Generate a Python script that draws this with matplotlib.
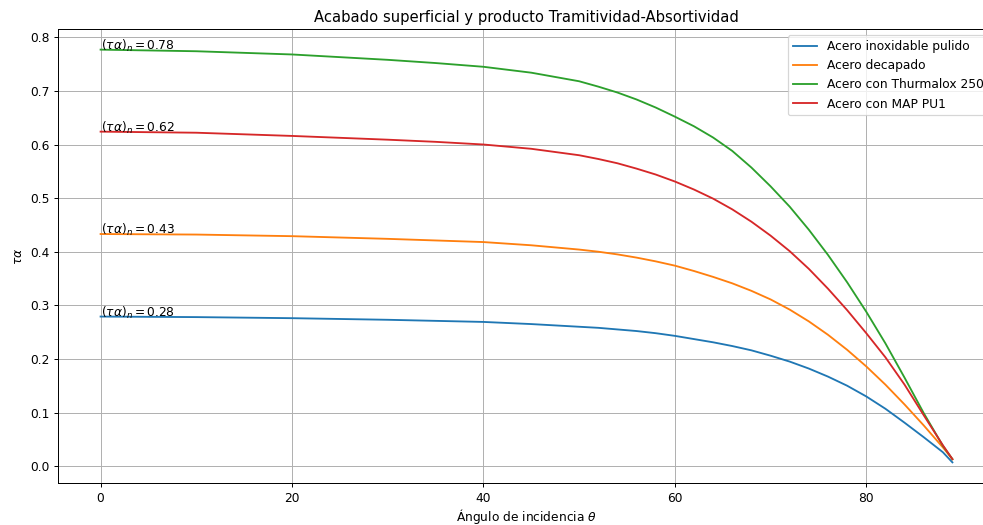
import matplotlib
matplotlib.use("Agg")
import matplotlib.pyplot as plt

theta = [0, 10, 20, 30, 35, 40, 45, 50, 52, 54, 56, 58, 60, 62, 64, 66, 68, 70, 72, 74, 76, 78,
         80, 82, 84, 86, 88, 89]

inox = [0.279, 0.278, 0.276, 0.273, 0.271, 0.269, 0.265, 0.260, 0.258, 0.255, 0.252, 0.248,
        0.243, 0.237, 0.231, 0.224, 0.216, 0.206, 0.195, 0.182, 0.167, 0.150, 0.130, 0.107,
        0.081, 0.054, 0.026, 0.007]
decapado = [0.433, 0.432, 0.429, 0.424, 0.421, 0.418, 0.412, 0.404, 0.400, 0.395, 0.389, 0.382,
            0.374, 0.364, 0.353, 0.341, 0.327, 0.311, 0.292, 0.270, 0.245, 0.217, 0.186, 0.152,
            0.115, 0.076, 0.035, 0.013]
thurmalox = [0.777, 0.774, 0.768, 0.758, 0.752, 0.745, 0.734, 0.718, 0.708, 0.697, 0.684, 0.669,
             0.652, 0.634, 0.613, 0.588, 0.557, 0.522, 0.484, 0.441, 0.394, 0.343, 0.288, 0.229,
             0.165, 0.099, 0.038, 0.013]
mappu1 = [0.624, 0.622, 0.616, 0.609, 0.605, 0.600, 0.592, 0.580, 0.573, 0.565, 0.555, 0.544,
          0.531, 0.516, 0.499, 0.479, 0.456, 0.430, 0.401, 0.368, 0.331, 0.291, 0.248, 0.203,
          0.152, 0.095, 0.039, 0.013]

labels = ["Acero inoxidable pulido", "Acero decapado", "Acero con Thurmalox 250", "Acero con MAP PU1"]
normal_values = [0.28, 0.43, 0.78, 0.62]
series = [inox, decapado, thurmalox, mappu1]

DPI = 88.6
fig = plt.figure(figsize=(984 / DPI, 525 / DPI), dpi=DPI)
ax = fig.add_axes([58/984, 42/525, (995-58)/984, (483-29)/525])

for s, lab, nv in zip(series, labels, normal_values):
    ax.plot(theta, s, label=lab)
    ax.text(theta[0], s[0], r"$(\tau\alpha)_n = $" + f"{nv:.2f}")

ax.set_title("Acabado superficial y producto Tramitividad-Absortividad")
ax.set_xlabel(r"Ángulo de incidencia $\theta$", labelpad=2)
ax.set_ylabel(r"$\tau\alpha$")
ax.grid(True)
ax.legend(loc="upper right")

fig.savefig("out.png", dpi=DPI)
